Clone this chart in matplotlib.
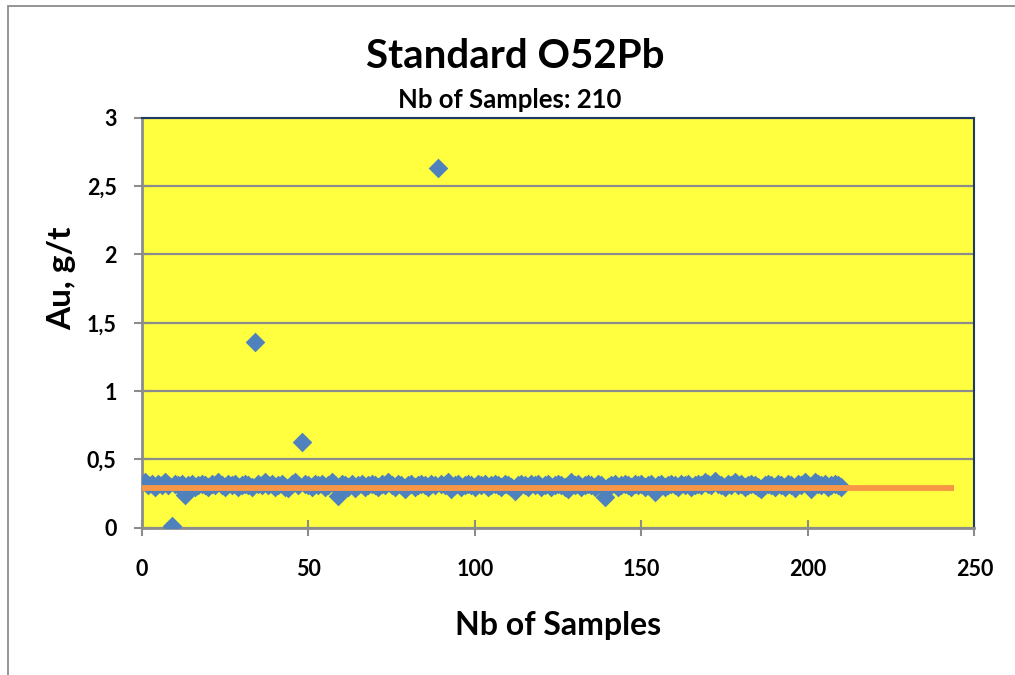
import numpy as np
import matplotlib.pyplot as plt
from matplotlib.patches import Rectangle

plt.rcParams['font.family'] = ['Lato', 'DejaVu Sans']
plt.rcParams['font.weight'] = 'bold'

# Au values for the 210 standard samples (g/t)
au = [
    0.33, 0.31, 0.32, 0.30, 0.32, 0.31, 0.33, 0.31, 0.01, 0.32,
    0.31, 0.32, 0.235, 0.31, 0.32, 0.30, 0.31, 0.32, 0.31, 0.30,
    0.32, 0.31, 0.33, 0.31, 0.30, 0.32, 0.31, 0.32, 0.30, 0.31,
    0.32, 0.31, 0.30, 1.356, 0.32, 0.31, 0.33, 0.31, 0.32, 0.30,
    0.31, 0.32, 0.30, 0.29, 0.32, 0.33, 0.31, 0.63, 0.32, 0.31,
    0.30, 0.32, 0.31, 0.32, 0.30, 0.31, 0.33, 0.31, 0.234, 0.32,
    0.31, 0.30, 0.32, 0.29, 0.31, 0.32, 0.30, 0.31, 0.32, 0.31,
    0.30, 0.32, 0.31, 0.33, 0.31, 0.30, 0.32, 0.31, 0.28, 0.31,
    0.32, 0.30, 0.31, 0.32, 0.31, 0.30, 0.32, 0.31, 2.63, 0.32,
    0.31, 0.33, 0.28, 0.31, 0.32, 0.30, 0.31, 0.32, 0.31, 0.30,
    0.32, 0.31, 0.32, 0.30, 0.31, 0.32, 0.31, 0.30, 0.32, 0.31,
    0.30, 0.27, 0.31, 0.32, 0.31, 0.30, 0.32, 0.31, 0.32, 0.30,
    0.31, 0.32, 0.30, 0.31, 0.32, 0.31, 0.30, 0.28, 0.33, 0.31,
    0.32, 0.30, 0.31, 0.32, 0.31, 0.30, 0.32, 0.31, 0.227, 0.30,
    0.31, 0.32, 0.30, 0.31, 0.32, 0.31, 0.30, 0.32, 0.31, 0.32,
    0.30, 0.31, 0.32, 0.26, 0.31, 0.32, 0.30, 0.31, 0.32, 0.31,
    0.30, 0.32, 0.31, 0.32, 0.30, 0.31, 0.32, 0.31, 0.33, 0.32,
    0.31, 0.342, 0.32, 0.31, 0.30, 0.32, 0.31, 0.33, 0.31, 0.32,
    0.30, 0.31, 0.32, 0.31, 0.30, 0.285, 0.31, 0.32, 0.31, 0.30,
    0.32, 0.31, 0.30, 0.32, 0.31, 0.29, 0.32, 0.31, 0.33, 0.31,
    0.28, 0.33, 0.32, 0.31, 0.32, 0.30, 0.31, 0.32, 0.31, 0.30,
]
samples = list(range(1, len(au) + 1))

# reference line
ref_x = [0, 244]
ref_y = [0.287, 0.287]

yticks = [0, 0.5, 1, 1.5, 2, 2.5, 3]
ylabels = ['0', '0,5', '1', '1,5', '2', '2,5', '3']
xticks = [0, 50, 100, 150, 200, 250]

fig = plt.figure(figsize=(10.15, 6.75), dpi=100)
ax = fig.add_axes([0.1396, 0.2185, 0.8204, 0.6067])
ax.set_facecolor('#FFFF40')

# chart area border (cut off at right and bottom)
fig.patches.append(Rectangle((8 / 1015, -0.1), 1.2, (675 - 6) / 675 + 0.1,
                             transform=fig.transFigure, fill=False,
                             edgecolor='#8C8C8C', linewidth=1.3))

ax.grid(axis='y', color='#8C8C8C', linewidth=1.6)
ax.set_axisbelow(True)

ax.scatter(samples, au, marker='D', s=100, color='#4F81BD', zorder=3, linewidths=0)
ax.plot(ref_x, ref_y, color='#F79646', linewidth=4.2, zorder=4, solid_capstyle='butt')

ax.set_xlim(0, 250)
ax.set_ylim(0, 3)
ax.set_xticks(xticks)
ax.set_yticks(yticks)
ax.set_yticklabels(ylabels)
ax.tick_params(axis='both', direction='inout', length=12, width=1.5, color='#8C8C8C',
               labelsize=15.5)
ax.tick_params(axis='y', pad=12)
ax.tick_params(axis='x', pad=17)

for side in ['left', 'bottom']:
    ax.spines[side].set_color('#8C8C8C')
    ax.spines[side].set_linewidth(2)
for side in ['top', 'right']:
    ax.spines[side].set_color('#1F3864')
    ax.spines[side].set_linewidth(1.5)

fig.text(558 / 1015, 1 - 625 / 675, 'Nb of Samples', fontsize=23, fontweight='bold',
         ha='center', va='center')
fig.text(62 / 1015, 1 - 278 / 675, 'Au, g/t', fontsize=24, fontweight='bold',
         ha='center', va='center', rotation=90)

fig.text(515 / 1015, 1 - 57 / 675, 'Standard O52Pb', fontsize=29, fontweight='bold',
         ha='center', va='center')
fig.text(510 / 1015, 1 - 100 / 675, 'Nb of Samples: 210', fontsize=18.5, fontweight='bold',
         ha='center', va='center')

fig.savefig('out.png', dpi=100)
